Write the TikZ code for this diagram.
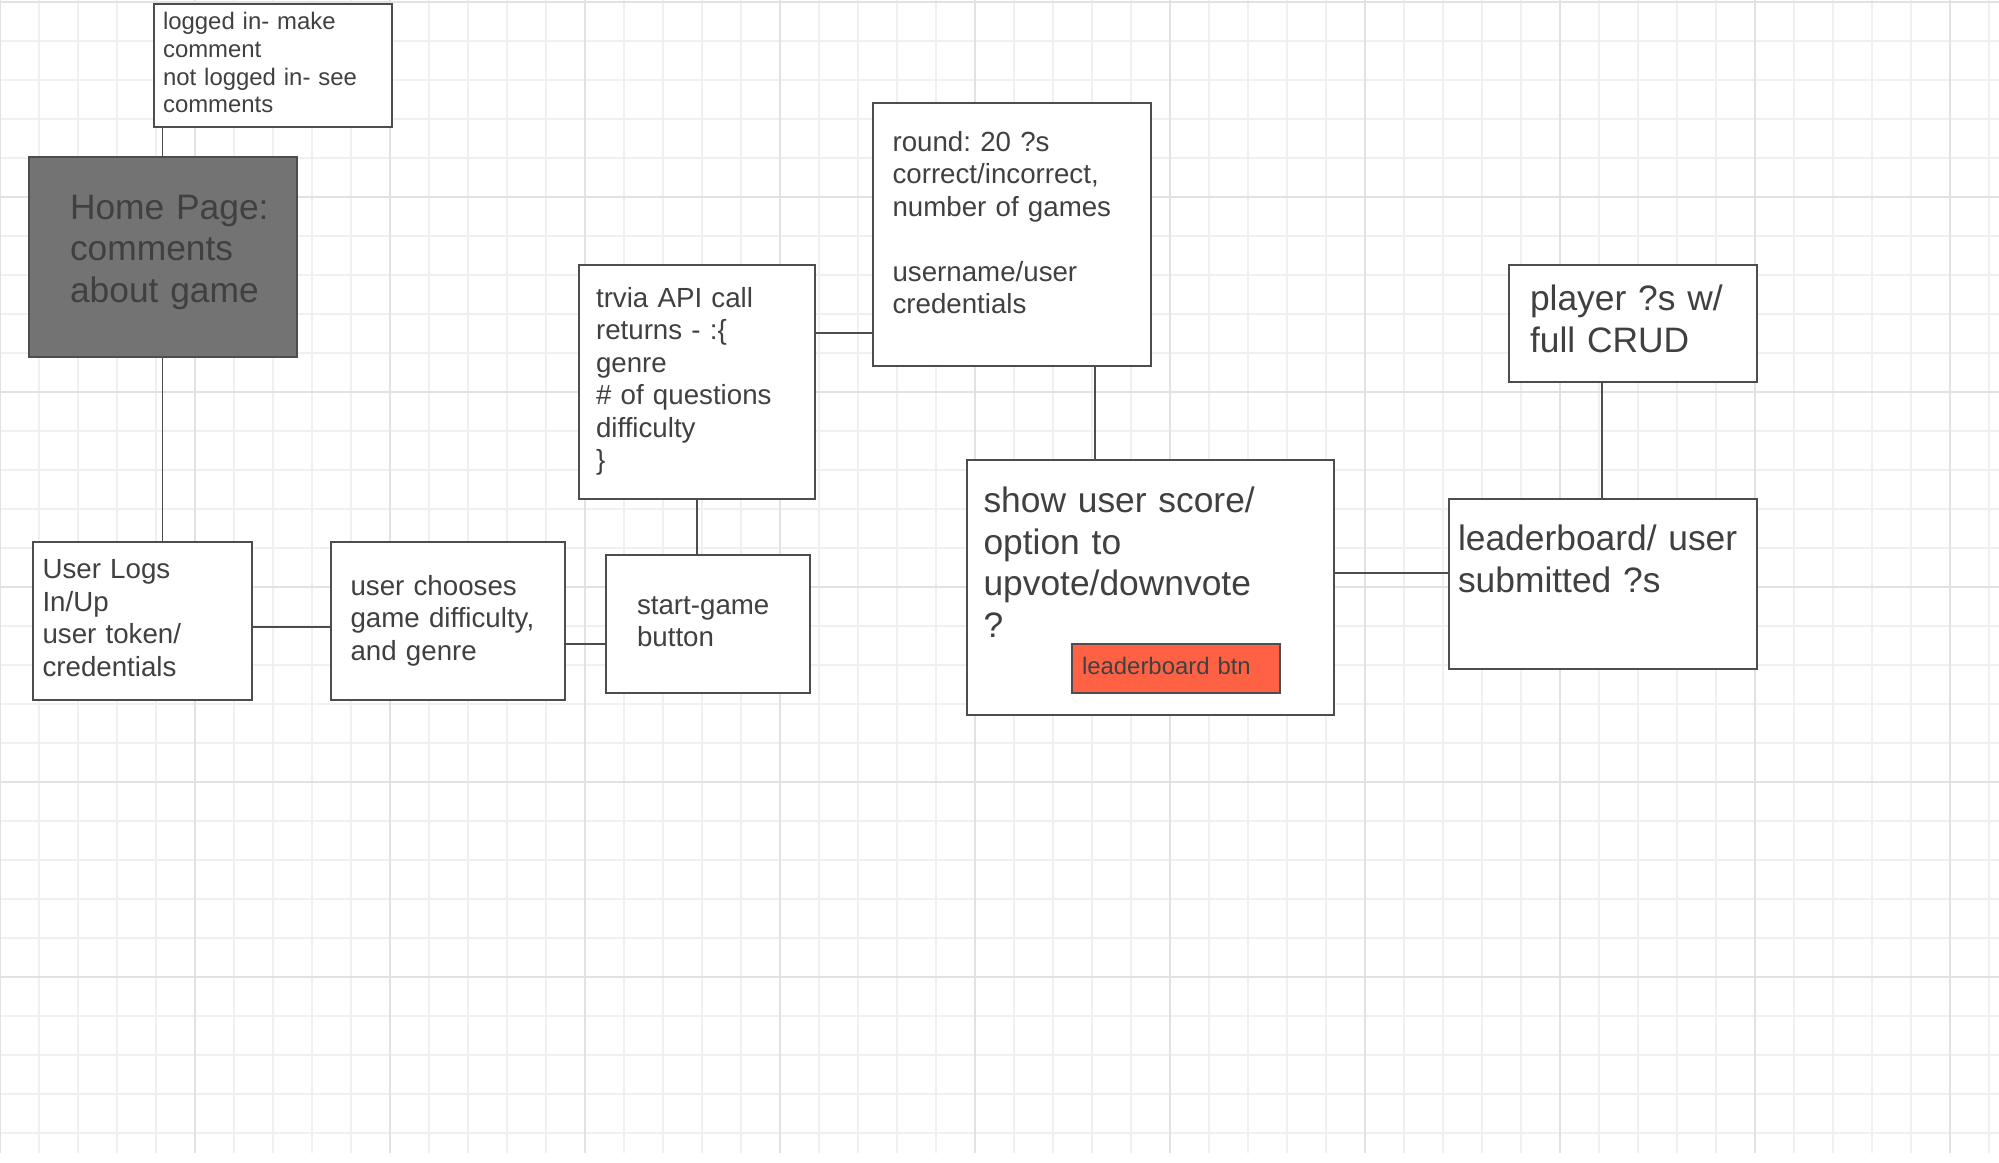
\documentclass[tikz,border=0pt]{standalone}
\usepackage{fontspec}
\setmainfont{Liberation Sans}
\frenchspacing
\definecolor{ink}{HTML}{404040}
\definecolor{edge}{HTML}{4D4D4D}
\definecolor{homefill}{HTML}{737373}
\definecolor{btnfill}{HTML}{FF6145}
\definecolor{gridminor}{HTML}{F0F0F0}
\definecolor{gridmajor}{HTML}{E2E2E2}

\begin{document}
\begin{tikzpicture}[x=0.02cm,y=-0.02cm,
    box/.style={draw=edge,line width=1.2pt,fill=white,text=ink,align=left,
      inner ysep=0pt,anchor=north west,
      execute at begin node=\strut,execute at end node=\strut},
    dims/.style n args={4}{minimum width=#1cm,minimum height=#2cm,
      inner xsep=#3cm,text width=#4cm},
    lift/.style={execute at end node={\rule[-#1]{0pt}{#1}}},
    small/.style={font=\fontsize{13.6}{15.87}\selectfont},
    medium/.style={font=\fontsize{15.76}{18.48}\selectfont},
    large/.style={font=\fontsize{20.13}{23.81}\selectfont},
    link/.style={draw=edge,line width=1.1pt},
    minor/.style={draw=gridminor,line width=0.8pt},
    major/.style={draw=gridmajor,line width=0.8pt}]
   \useasboundingbox[fill=white] (0,0) rectangle (1999,1163);
   % grid paper
   \foreach \x in {0,39,...,1989} \draw[minor] (\x,0) -- (\x,1153);
   \foreach \y in {2,41,...,1133} \draw[minor] (0,\y) -- (1999,\y);
   \foreach \x in {0,195,...,1950} \draw[major] (\x,0) -- (\x,1153);
   \foreach \y in {2,197,...,977} \draw[major] (0,\y) -- (1999,\y);

   \node[box,small,dims={4.76}{2.46}{0.18}{4.40}] (note) at (153,3)
     {logged in- make\\comment\\not logged in- see\\comments};
   \node[box,large,dims={5.36}{4.00}{0.82}{3.72},fill=homefill,
     lift=12.2pt] (home) at (28,156)
     {Home~Page:\\comments\\about~game};
   \node[box,medium,dims={4.38}{3.16}{0.19}{4.00}] (login) at (32,541)
     {User Logs\\In/Up\\user token/\\credentials};
   \node[box,medium,dims={4.68}{3.16}{0.39}{3.90}] (choose) at (330,541)
     {user chooses\\game difficulty,\\and genre};
   \node[box,medium,dims={4.08}{2.76}{0.62}{2.84}] (start) at (605,554)
     {start-game\\button};
   \node[box,medium,dims={4.72}{4.68}{0.34}{4.04}] (api) at (578,264)
     {trvia API call\\returns - :\{\\genre\\\# of questions\\difficulty\\\}};
   \node[box,medium,dims={5.56}{5.26}{0.39}{4.78},lift=15.4pt] (round) at (872,102)
     {round: 20 ?s\\correct/incorrect,\\number of games\\ \strut\\username/user\\credentials};
   \node[box,large,dims={7.34}{5.10}{0.33}{6.68}] (score) at (966,459)
     {show user score/\\option to\\upvote/downvote\\?\\};
   \node[box,small,dims={4.16}{0.98}{0.20}{3.76},fill=btnfill] (btn) at (1071,643)
     {leaderboard btn};
   \node[box,large,dims={6.16}{3.40}{0.18}{5.80}] (board) at (1448,498)
     {leaderboard/ user\\submitted ?s\\};
   \node[box,large,dims={4.96}{2.34}{0.42}{4.12}] (crud) at (1508,264)
     {player ?s w/\\full CRUD};

   \draw[link] (note.south west) ++(9.5,0) coordinate (c1) -- (c1 |- home.north);
   \draw[link] (home.south west) ++(134.5,0) coordinate (c2) -- (c2 |- login.north);
   \draw[link] (login.east) ++(0,6) coordinate (c3) -- (c3 -| choose.west);
   \draw[link] (choose.east) ++(0,23) coordinate (c4) -- (c4 -| start.west);
   \draw[link] (start.north west) ++(92,0) coordinate (c5) -- (c5 |- api.south);
   \draw[link] (api.north east) ++(0,69) coordinate (c6) -- (c6 -| round.west);
   \draw[link] (round.south west) ++(223,0) coordinate (c7) -- (c7 |- score.north);
   \draw[link] (score.north east) ++(0,114) coordinate (c8) -- (c8 -| board.west);
   \draw[link] (crud.south west) ++(94,0) coordinate (c9) -- (c9 |- board.north);
\end{tikzpicture}
\end{document}
